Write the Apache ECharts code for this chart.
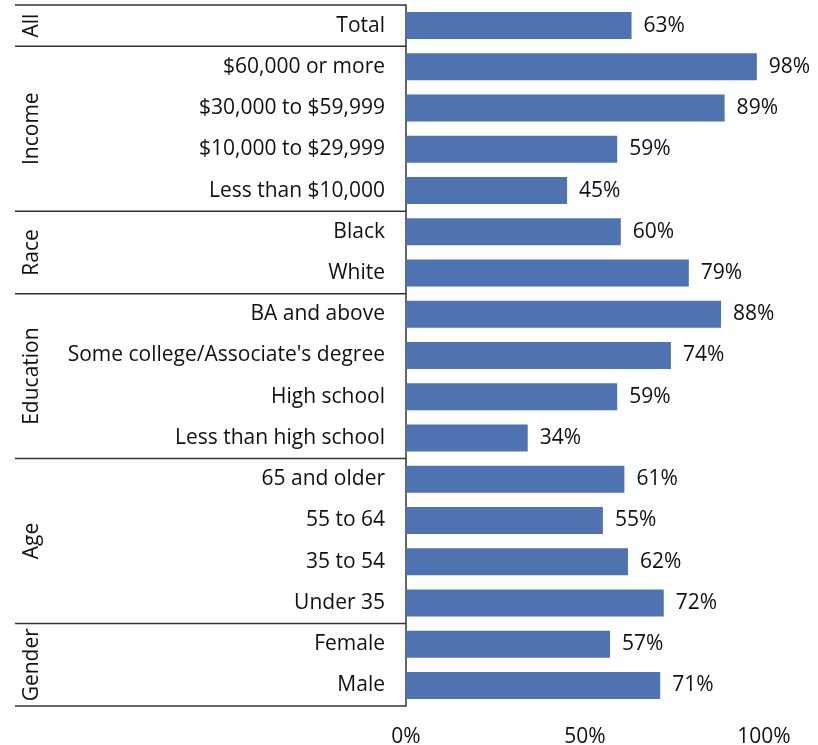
<!DOCTYPE html>
<html><head><meta charset="utf-8">
<script src="https://cdn.jsdelivr.net/npm/echarts@6/dist/echarts.min.js"></script>
<style>html,body{margin:0;padding:0;background:#fff}#c{width:818px;height:745px}</style>
</head><body><div id="c"></div>
<script>
const categories = ["Total","$60,000 or more","$30,000 to $59,999","$10,000 to $29,999","Less than $10,000","Black","White","BA and above","Some college/Associate's degree","High school","Less than high school","65 and older","55 to 64","35 to 54","Under 35","Female","Male"];
const values = [63,98,89,59,45,60,79,88,74,59,34,61,55,62,72,57,71];
const groups = ["All","Income","Race","Education","Age","Gender"];
const groupSizes = [1,4,2,4,4,2];
const xTicks = [0,50,100];

const FONT = 'Open Sans';
const FS = 21;
const chart = echarts.init(document.getElementById('c'));
chart.setOption({
  animation:false,
  grid:{left:406,right:54,top:5,bottom:39,containLabel:false,outerBoundsMode:'none'},
  xAxis:{type:'value',min:0,max:100,interval:50,
    axisLine:{show:false},axisTick:{show:false},splitLine:{show:false},
    axisLabel:{formatter:v=>v+'%',fontFamily:FONT,fontSize:FS,color:'#111',margin:21}},
  yAxis:{type:'category',data:categories,inverse:true,
    axisLine:{show:true,lineStyle:{color:'#333',width:1.5}},axisTick:{show:false},
    axisLabel:{fontFamily:FONT,fontSize:FS,color:'#111',margin:21,padding:[4,0,0,0]}},
  series:[{type:'bar',data:values,barWidth:27,itemStyle:{color:'#4e73b0'},
    label:{show:true,position:'right',distance:12,formatter:p=>p.value+'%',fontFamily:FONT,fontSize:FS,color:'#111',padding:[4,0,0,0]}}]
});
const x0 = chart.convertToPixel({xAxisIndex:0},0);
const yTop = chart.convertToPixel({yAxisIndex:0},categories[0]);
const yNext = chart.convertToPixel({yAxisIndex:0},categories[1]);
const band = yNext - yTop;
const elems = [];
let idx = 0;
const leftX = 15;
const boundary = i => yTop - band/2 + i*band;
elems.push({type:'line',shape:{x1:leftX,y1:boundary(0),x2:x0,y2:boundary(0)},style:{stroke:'#333',lineWidth:1.5}});
groups.forEach((g,gi)=>{
  const start = idx, end = idx + groupSizes[gi];
  const yc = (boundary(start)+boundary(end))/2;
  elems.push({type:'text',x:32,y:yc,rotation:Math.PI/2,
    style:{text:g,fontFamily:FONT,fontSize:FS,fill:'#111',align:'center',verticalAlign:'middle'}});
  elems.push({type:'line',shape:{x1:leftX,y1:boundary(end),x2:x0,y2:boundary(end)},style:{stroke:'#333',lineWidth:1.5}});
  idx = end;
});
chart.setOption({graphic:{elements:elems}});
</script></body></html>
